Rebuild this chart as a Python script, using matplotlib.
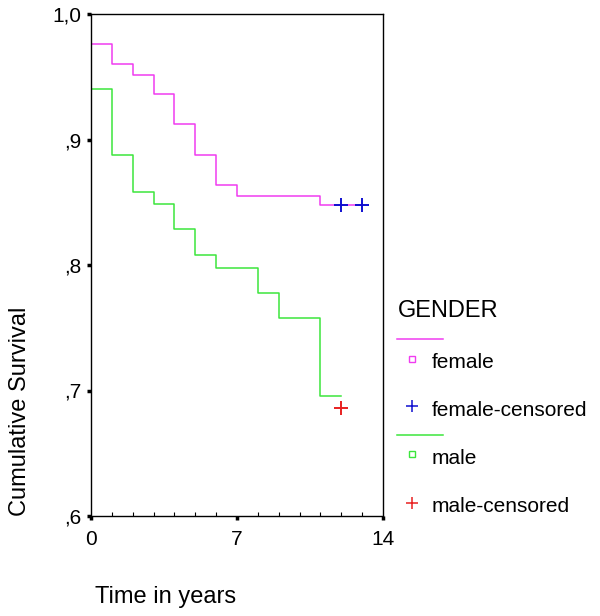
import matplotlib
matplotlib.use('Agg')
from matplotlib import pyplot as plt
from matplotlib.lines import Line2D

plt.rcParams['font.family'] = ['Liberation Sans', 'DejaVu Sans']

# Kaplan-Meier steps
female_t = [0, 0, 1, 2, 3, 4, 5, 6, 7, 11, 13]
female_s = [1.0, 0.976, 0.960, 0.951, 0.936, 0.912, 0.888, 0.864, 0.855, 0.848, 0.848]
female_cens_t = [12, 13]
female_cens_s = [0.848, 0.848]

male_t = [0, 0, 1, 2, 3, 4, 5, 6, 8, 9, 11, 12]
male_s = [1.0, 0.940, 0.888, 0.858, 0.849, 0.829, 0.808, 0.798, 0.778, 0.758, 0.696, 0.696]
male_cens_t = [12]
male_cens_s = [0.686]

yticks = [0.6, 0.7, 0.8, 0.9, 1.0]
ylabels = [',6', ',7', ',8', ',9', '1,0']
xticks = [0, 7, 14]

c_female = '#f03cf0'
c_male = '#3ce63c'
c_fcens = '#1010d0'
c_mcens = '#e82020'

fig = plt.figure(figsize=(6, 6.16), dpi=100)
ax = fig.add_axes([91/600, 1-516/616, 292/600, 502/616])

ax.step(female_t, female_s, where='post', color=c_female, lw=1.1)
ax.step(male_t, male_s, where='post', color=c_male, lw=1.1)
ax.plot(female_cens_t, female_cens_s, '+', color=c_fcens, ms=10, mew=1.4)
ax.plot(male_cens_t, male_cens_s, '+', color=c_mcens, ms=10, mew=1.4)

ax.set_xlim(0, 14)
ax.set_ylim(0.6, 1.0)
ax.set_yticks(yticks)
ax.set_yticklabels(ylabels)
ax.set_xticks(xticks)
ax.set_xticks(range(0, 15), minor=True)
ax.tick_params(axis='both', which='major', labelsize=15, length=3, width=2.5, direction='out')
ax.tick_params(axis='y', pad=4)
ax.tick_params(axis='x', pad=7)
ax.tick_params(axis='x', which='minor', length=3, width=0.8, direction='in')
for s in ax.spines.values():
    s.set_linewidth(1.0)

fig.text(95/600, 1-597/616, 'Time in years', fontsize=17, ha='left', va='center')
fig.text(20/600, 1-411/616, 'Cumulative Survival', fontsize=17, rotation=90,
         ha='center', va='center')

# legend block drawn in figure pixels
def fy(y):
    return 1 - y/616

fig.text(398/600, fy(311), 'GENDER', fontsize=17, ha='left', va='center')
fig.add_artist(Line2D([397/600, 443/600], [fy(339), fy(339)], color=c_female, lw=1.1))
fig.add_artist(Line2D([412/600], [fy(359)], marker='s', ms=5, mfc='none', mec=c_female,
                      mew=1.0, ls='none'))
fig.text(432/600, fy(363), 'female', fontsize=15, ha='left', va='center')
fig.add_artist(Line2D([412/600], [fy(406)], marker='+', ms=8, mew=1.1, color=c_fcens,
                      ls='none'))
fig.text(432/600, fy(410), 'female-censored', fontsize=15, ha='left', va='center')
fig.add_artist(Line2D([397/600, 443/600], [fy(435), fy(435)], color=c_male, lw=1.1))
fig.add_artist(Line2D([412/600], [fy(454)], marker='s', ms=5, mfc='none', mec=c_male,
                      mew=1.0, ls='none'))
fig.text(432/600, fy(458), 'male', fontsize=15, ha='left', va='center')
fig.add_artist(Line2D([412/600], [fy(503)], marker='+', ms=8, mew=1.1, color=c_mcens,
                      ls='none'))
fig.text(432/600, fy(507), 'male-censored', fontsize=15, ha='left', va='center')

fig.savefig('out.png', dpi=100)
